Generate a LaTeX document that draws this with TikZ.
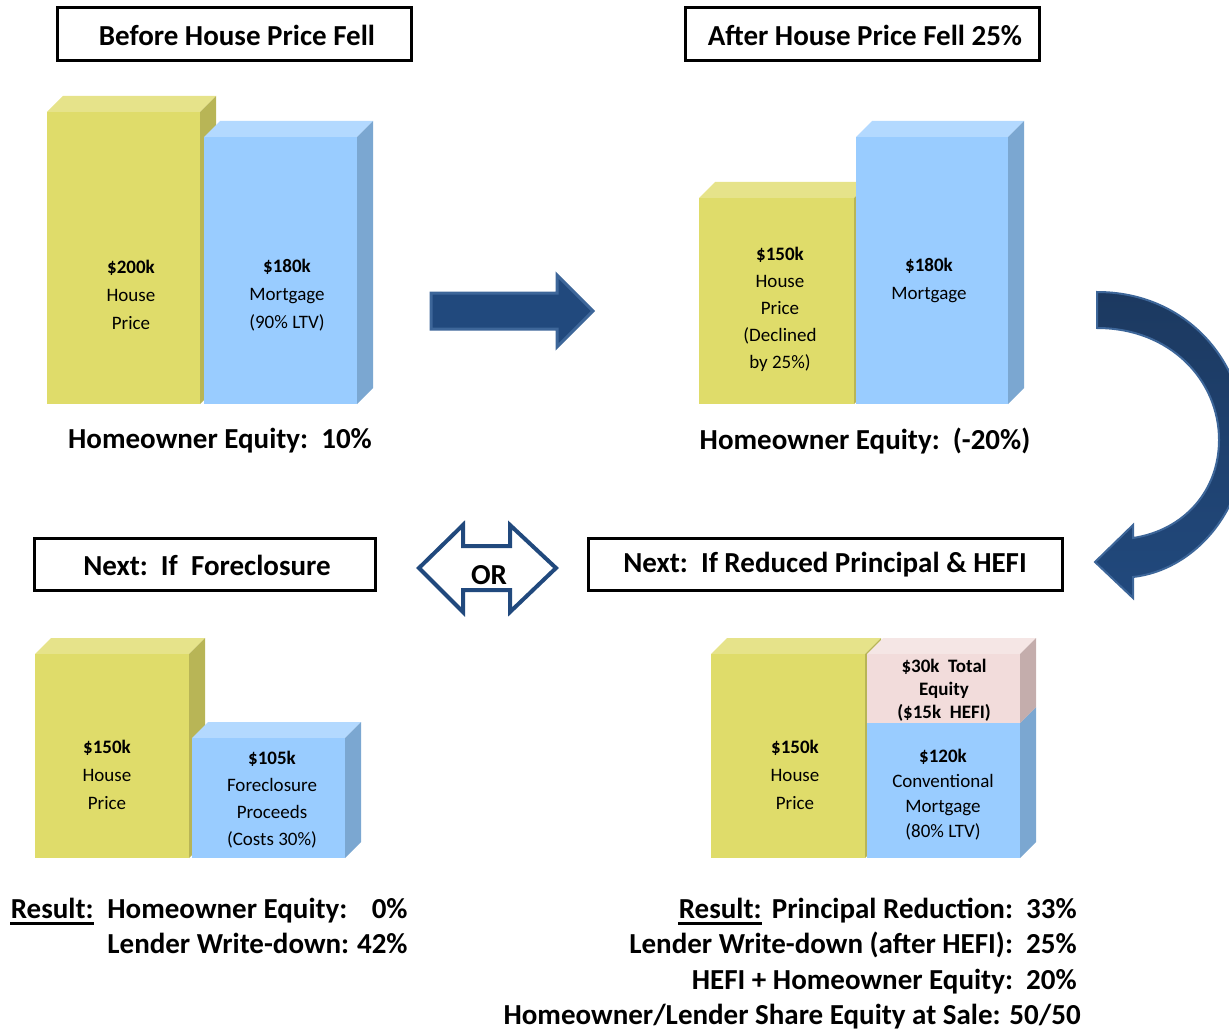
\documentclass[tikz,border=0pt]{standalone}
\usepackage{fontspec}
\setmainfont{Carlito}
\usetikzlibrary{calc}
\definecolor{ybfront}{HTML}{DFDC6A}
\definecolor{ybtop}{HTML}{E6E38A}
\definecolor{ybside}{HTML}{B8B556}
\definecolor{blfront}{HTML}{99CCFF}
\definecolor{bltop}{HTML}{B3D9FF}
\definecolor{blside}{HTML}{7BA7D1}
\definecolor{pkfront}{HTML}{F2DCDB}
\definecolor{pktop}{HTML}{F5E6E5}
\definecolor{pkside}{HTML}{C4ADAC}
\definecolor{arrowblue}{HTML}{21497D}
\definecolor{arrowdark}{HTML}{1C3960}
\definecolor{arrowedge}{HTML}{3D6699}
\newcommand\tbar[5]{% left, top, right, bottom (px), colour set
  \fill[#5top] (#1,#2) -- (#1+16,#2-16) -- (#3+16,#2-16) -- (#3,#2) -- cycle; % top face
  \fill[#5side] (#3,#2) -- (#3+16,#2-16) -- (#3+16,#4-16) -- (#3,#4) -- cycle; % side face
  \fill[#5front] (#1,#2) rectangle (#3,#4); % front face
}
\tikzset{
  titlebox/.style={draw=black, line width=1.5pt},
  bigtext/.style={font=\fontsize{14.5}{16}\selectfont\bfseries, inner sep=0pt},
  bartext/.style={font=\fontsize{9.5}{14}\selectfont, align=center, inner sep=0pt},
}

\begin{document}
\begin{tikzpicture}[x=0.5pt,y=-0.5pt]
  \useasboundingbox (0,0) rectangle (1229,1032);
  % before
  \draw[titlebox] (57,8) rectangle (411,61);
  \node[bigtext] (t1) at (237,35) {Before House Price Fell};
  \tbar{47}{112}{200}{404}{yb}
  \tbar{204}{137}{357}{404}{bl}
  \node[bartext] (h1) at (131,295) {\textbf{\$200k}\\House\\Price};
  \node[bartext] (m1) at (287,295) {\textbf{\$180k}\\Mortgage\\(90\% LTV)};
  \node[bigtext] (e1) at (220,441) {Homeowner Equity:\ \ 10\%};
  \fill[arrowblue, draw=arrowedge, line width=1.5pt] (431,293) -- (557,293) -- (557,275) -- (593,311) -- (557,347) -- (557,329) -- (431,329) -- cycle;
  % after
  \draw[titlebox] (685,8) rectangle (1039,61);
  \node[bigtext] (t2) at (865,35) {After House Price Fell 25\%};
  \tbar{699}{198}{854}{404}{yb}
  \tbar{856}{137}{1008}{404}{bl}
  \node[bartext, font=\fontsize{9.5}{13.5}\selectfont] (h2) at (780,309) {\textbf{\$150k}\\House\\Price\\(Declined\\by 25\%)};
  \node[bartext] (m2) at (929,280) {\textbf{\$180k}\\Mortgage};
  \node[bigtext] (e2) at (865,441) {Homeowner Equity:\ \ (-20\%)};
  \fill[top color=arrowdark, bottom color=arrowblue, draw=arrowedge, line width=1pt]
    (1097,292) .. controls (1185,292) and (1245,360) .. (1245,440)
    .. controls (1245,510) and (1195,570) .. (1133,577)
    -- (1133,598) -- (1095,562) -- (1133,525) -- (1133,538)
    .. controls (1185,530) and (1219,490) .. (1219,440)
    .. controls (1219,380) and (1170,328) .. (1097,328) -- cycle;
  % foreclosure
  \draw[titlebox] (34,538) rectangle (375,590);
  \node[bigtext] (t3) at (207,565) {Next:\ \ If\ \ Foreclosure};
  \draw[arrowblue, line width=2pt, fill=white] (419,568) -- (463,525) -- (463,546) -- (510,546) -- (510,525) -- (556,568) -- (510,612) -- (510,590) -- (463,590) -- (463,612) -- cycle;
  \node[bigtext] (or) at (489,575) {OR};
  \tbar{35}{654}{189}{858}{yb}
  \tbar{192}{738}{345}{858}{bl}
  \node[bartext] (h3) at (107,775) {\textbf{\$150k}\\House\\Price};
  \node[bartext, font=\fontsize{9.5}{13.5}\selectfont] (m3) at (272,800) {\textbf{\$105k}\\Foreclosure\\Proceeds\\(Costs 30\%)};
  \node[bigtext, anchor=base east] (r3) at (94,918) {Result:};
  \draw[line width=1.5pt] ([yshift=-2.5pt]r3.base west) -- ([yshift=-2.5pt]r3.base east);
  \node[bigtext, anchor=base west] (q3a) at (107,918) {Homeowner Equity:};
  \node[bigtext, anchor=base east] (q3b) at (408,918) {0\%};
  \node[bigtext, anchor=base west] (q3c) at (107,953) {Lender Write-down:};
  \node[bigtext, anchor=base east] (q3d) at (408,953) {42\%};
  % reduced principal
  \draw[titlebox] (588,538) rectangle (1062,590);
  \node[bigtext] (t4) at (825,565) {Next:\ \ If Reduced Principal \& HEFI};
  \tbar{711}{654}{865}{858}{yb}
  \tbar{867}{723}{1020}{858}{bl}
  \tbar{867}{654}{1020}{723}{pk}
  \node[bartext] (h4) at (795,775) {\textbf{\$150k}\\House\\Price};
  \node[bartext, font=\fontsize{9.5}{11.5}\selectfont\bfseries] (k4) at (944,690) {\$30k\ \ Total\\Equity\\(\$15k\ \ HEFI)};
  \node[bartext, font=\fontsize{9.5}{12.5}\selectfont] (m4) at (943,795) {\textbf{\$120k}\\Conventional\\Mortgage\\(80\% LTV)};
  \node[bigtext, anchor=base east] (r4) at (762,918) {Result:};
  \draw[line width=1.5pt] ([yshift=-2.5pt]r4.base west) -- ([yshift=-2.5pt]r4.base east);
  \node[bigtext, anchor=base east] (q4a) at (1077,918) {Principal Reduction:\ \ 33\%};
  \node[bigtext, anchor=base east] (q4b) at (1077,953) {Lender Write-down (after HEFI):\ \ 25\%};
  \node[bigtext, anchor=base east] (q4c) at (1077,989) {HEFI + Homeowner Equity:\ \ 20\%};
  \node[bigtext, anchor=base east] (q4d) at (1081,1024) {Homeowner/Lender Share Equity at Sale: 50/50};
\end{tikzpicture}
\end{document}
